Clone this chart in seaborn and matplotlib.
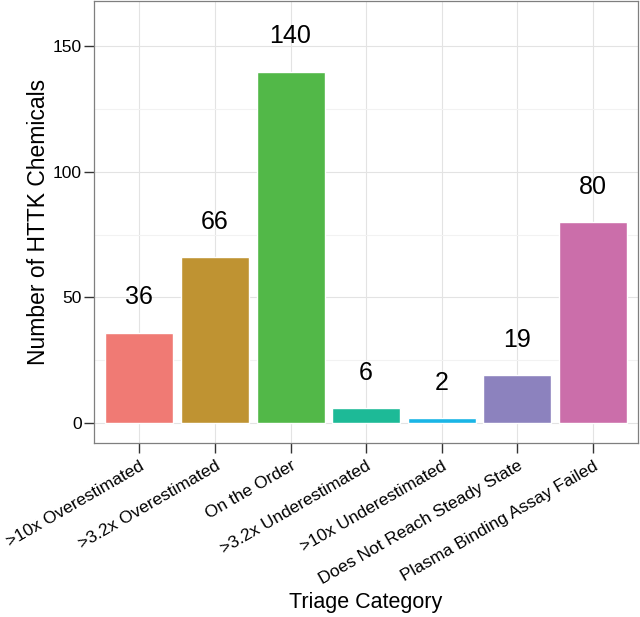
import matplotlib
matplotlib.use('Agg')
import matplotlib.pyplot as plt
import seaborn as sns
import pandas as pd
from matplotlib.ticker import MultipleLocator

# 数据
categories = ['>10x Overestimated', '>3.2x Overestimated', 'On the Order',
              '>3.2x Underestimated', '>10x Underestimated',
              'Does Not Reach Steady State', 'Plasma Binding Assay Failed']
counts = [36, 66, 140, 6, 2, 19, 80]
bar_colors = ['#F07A74', '#BF9332', '#52B848', '#1DBA97', '#1AB5E6', '#8C82BE', '#CB6EAA']

df = pd.DataFrame({'Triage Category': categories, 'Number': counts})

sns.set_theme(style='whitegrid')
plt.rcParams['font.family'] = ['Liberation Sans', 'DejaVu Sans']

fig = plt.figure(figsize=(6.4, 6.17), dpi=100)
ax = fig.add_axes([0.147, 0.282, 0.850, 0.716])

sns.barplot(data=df, x='Triage Category', y='Number', hue='Triage Category',
            palette=bar_colors, width=0.9, saturation=1, legend=False, ax=ax)

# 数值标注
for i, v in enumerate(counts):
    ax.text(i, v + 14, str(v), ha='center', va='center', fontsize=18, color='black')

ax.set_xlim(-0.6, len(categories) - 0.4)
ax.set_ylim(-8, 168)
ax.yaxis.set_major_locator(MultipleLocator(50))
ax.yaxis.set_minor_locator(MultipleLocator(25))

ax.set_facecolor('white')
ax.grid(True, which='major', color='#E3E3E3', linewidth=0.8)
ax.grid(True, which='minor', axis='y', color='#F2F2F2', linewidth=0.8)
ax.set_axisbelow(True)
for s in ax.spines.values():
    s.set_color('#7F7F7F')
    s.set_linewidth(0.9)

ax.tick_params(axis='both', which='major', length=7, width=1.0, color='#333333',
               labelsize=12.5, labelcolor='black', bottom=True, left=True)
ax.tick_params(axis='x', pad=4)
ax.tick_params(axis='y', pad=2)
ax.tick_params(axis='both', which='minor', length=0)
plt.setp(ax.get_xticklabels(), rotation=30, ha='right', va='top',
         rotation_mode='anchor')

ax.set_xlabel('Triage Category', fontsize=15.5, color='black', labelpad=3)
ax.set_ylabel('Number of HTTK Chemicals', fontsize=16.5, color='black', labelpad=2)

fig.savefig('out.png', dpi=100)
